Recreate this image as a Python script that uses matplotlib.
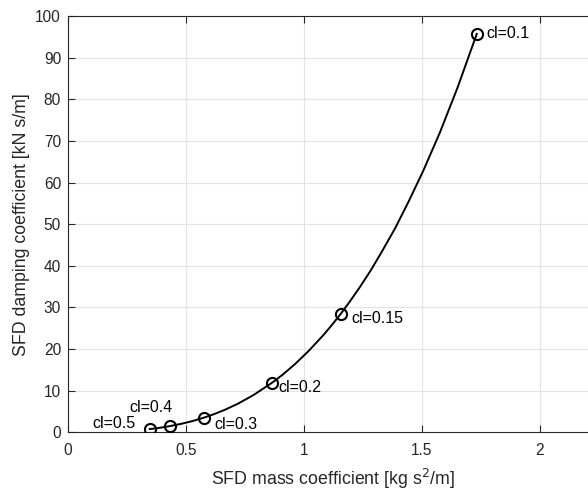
import matplotlib
matplotlib.use("Agg")
import matplotlib.pyplot as plt

# curve points
curve_mass = [1.732, 1.650, 1.575, 1.506, 1.443, 1.386, 1.332, 1.283, 1.237, 1.194, 1.155,
              1.117, 1.083, 1.019, 0.962, 0.912,
              0.866, 0.787, 0.722, 0.666, 0.619, 0.577, 0.525, 0.481, 0.433, 0.385, 0.346]
curve_damp = [95.7, 82.7, 71.9, 62.9, 55.4, 49.0, 43.6, 38.9, 34.9, 31.4, 28.4,
              25.7, 23.4, 19.5, 16.4, 13.95,
              11.96, 8.99, 6.92, 5.44, 4.36, 3.54, 2.66, 2.05, 1.50, 1.05, 0.77]

# marked points
marker_labels = ["cl=0.1", "cl=0.15", "cl=0.2", "cl=0.3", "cl=0.4", "cl=0.5"]
marker_mass = [1.732, 1.155, 0.866, 0.577, 0.433, 0.346]
marker_damp = [95.7, 28.4, 11.96, 3.54, 1.50, 0.77]

xticks = [0, 0.5, 1, 1.5, 2]
yticks = [0, 10, 20, 30, 40, 50, 60, 70, 80, 90, 100]

plt.rcParams['font.family'] = ['Liberation Sans', 'DejaVu Sans']

fig = plt.figure(figsize=(5.88, 4.91), dpi=100)
ax = fig.add_axes([68/588, 1 - 432.3/491, (599-68)/588, (432.3-16)/491])

ax.plot(curve_mass, curve_damp, color='black', lw=1.4, zorder=3)
ax.plot(marker_mass, marker_damp, linestyle='none', marker='o', markersize=8,
        markerfacecolor='none', markeredgecolor='black', markeredgewidth=1.5, zorder=4)

offsets = [(10, 0, 'left', 'center'), (11, -4, 'left', 'center'), (6, -5, 'left', 'center'),
           (10.7, -6.6, 'left', 'center'), (2.4, 19, 'right', 'center'), (-14, 6, 'right', 'center')]
for lab, mx, my, (dx, dy, ha, va) in zip(marker_labels, marker_mass, marker_damp, offsets):
    ax.annotate(lab, (mx, my), xytext=(dx, dy), textcoords='offset pixels',
                ha=ha, va=va, fontsize=11.5, color='black', zorder=5)

ax.set_xlim(0, 2.25)
ax.set_ylim(0, 100)
ax.set_xticks(xticks)
ax.set_xticklabels(['0', '0.5', '1', '1.5', '2'])
ax.set_yticks(yticks)
ax.grid(True, color='#e3e3e3', lw=0.8, zorder=0)
ax.set_axisbelow(True)
ax.tick_params(direction='in', top=True, right=True, length=5, width=0.8,
               colors='#262626', labelsize=11.2)
ax.tick_params(axis='x', pad=8)
ax.tick_params(axis='y', pad=5)
for s in ax.spines.values():
    s.set_color('#262626')
    s.set_linewidth(0.8)

ax.set_xlabel('SFD mass coefficient [kg s$^2$/m]', fontsize=12.8, color='#262626', labelpad=6)
ax.set_ylabel('SFD damping coefficient [kN s/m]', fontsize=12.8, color='#262626', labelpad=4)

fig.savefig('out.png', dpi=100)
